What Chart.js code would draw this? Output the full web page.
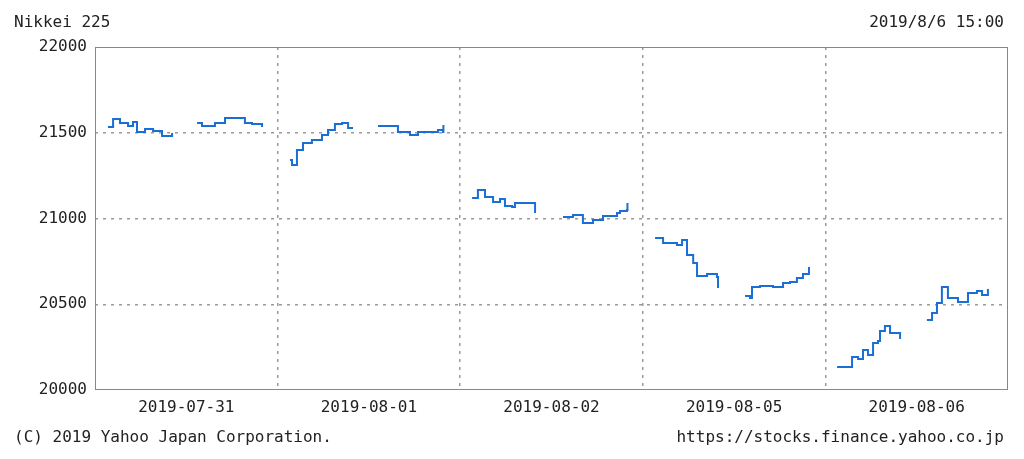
<!DOCTYPE html>
<html>
<head>
<meta charset="utf-8">
<script src="https://cdn.jsdelivr.net/npm/chart.js@4/dist/chart.umd.min.js"></script>
<style>
  body { margin: 0; background: #fff; }
  #wrap { position: relative; width: 1024px; height: 459px; font-family: "DejaVu Sans Mono", monospace; font-size: 16px; color: #222; }
  .t { position: absolute; white-space: nowrap; }
</style>
</head>
<body>
<div id="wrap">
  <canvas id="myChart" width="1024" height="459"></canvas>
  <div class="t" style="left:14px;top:12px;">Nikkei 225</div>
  <div class="t" style="right:20px;top:12px;">2019/8/6 15:00</div>
  <div class="t" style="left:14px;top:427px;">(C) 2019 Yahoo Japan Corporation.</div>
  <div class="t" style="right:20px;top:427px;">https://stocks.finance.yahoo.co.jp</div>
</div>
<script>
// x = position in hundredths of a trading day, null = lunch / overnight gap
const dayLabels = ['2019-07-31', '2019-08-01', '2019-08-02', '2019-08-05', '2019-08-06'];
const yTicks = [20000, 20500, 21000, 21500, 22000];

const times = [
    7.1, 9.9, 13.7, 18.1, 20.8, 23.0, 27.4, 31.8, 36.7, 42.2, null,
    55.9, 58.6, 65.7, 71.2, 78.3, 82.1, 86.0, 91.5, null,
    106.8, 107.9, 109.5, 110.6, 113.9, 118.8, 124.3, 127.6, 131.4, 135.3, 138.6, 141.3, null,
    155.0, 162.6, 165.9, 172.5, 176.9, 182.4, 187.8, 190.6, 190.8, null,
    206.5, 209.7, 213.6, 218.0, 221.8, 224.5, 228.4, 230.0, 234.4, 241.0, null,
    256.3, 261.8, 267.2, 272.7, 278.2, 285.9, 287.5, 291.3, 291.6, null,
    306.7, 311.1, 318.7, 321.5, 324.2, 327.6, 329.7, 335.2, 340.6, 341.2, null,
    356.0, 358.7, 359.8, 364.2, 371.3, 376.8, 380.6, 384.4, 387.7, 391.0, null,
    406.4, 410.8, 414.6, 417.9, 420.6, 423.3, 426.1, 428.8, 429.9, 432.6, 435.4, 438.1, 440.9, null,
    455.6, 458.4, 461.1, 463.8, 467.1, 472.6, 478.1, 483.0, 485.8, 489.0
];
const prices = [
    21534, 21580, 21557, 21539, 21563, 21504, 21522, 21510, 21481, 21499, null,
    21557, 21539, 21557, 21586, 21586, 21557, 21551, 21534, null,
    21341, 21312, 21312, 21400, 21440, 21458, 21487, 21516, 21551, 21557, 21528, 21528, null,
    21539, 21539, 21504, 21487, 21504, 21504, 21516, 21504, 21545, null,
    21120, 21166, 21125, 21096, 21114, 21073, 21067, 21090, 21090, 21032, null,
    21009, 21020, 20974, 20991, 21015, 21032, 21044, 21050, 21090, null,
    20886, 20857, 20846, 20875, 20787, 20741, 20665, 20676, 20659, 20595, null,
    20548, 20537, 20601, 20607, 20601, 20624, 20630, 20653, 20676, 20717, null,
    20134, 20134, 20192, 20181, 20233, 20204, 20274, 20286, 20344, 20373, 20332, 20332, 20297, null,
    20408, 20449, 20507, 20601, 20537, 20513, 20566, 20577, 20554, 20589
];

const points = times.map((t, i) => ({ x: t === null ? NaN : t, y: prices[i] }));

const frame = {
    id: 'frame',
    afterDraw(chart) {
        const a = chart.chartArea;
        const c = chart.ctx;
        c.save();
        c.strokeStyle = '#888';
        c.lineWidth = 1;
        c.strokeRect(a.left + 0.5, a.top + 0.5, a.right - a.left - 1, a.bottom - a.top - 1);
        c.restore();
    }
};

const ctx = document.getElementById('myChart').getContext('2d');
new Chart(ctx, {
    type: 'line',
    data: {
        datasets: [{
            data: points,
            borderColor: '#1a6fd6',
            borderWidth: 2,
            pointRadius: 0,
            stepped: true,
            spanGaps: false
        }]
    },
    options: {
        responsive: false,
        animation: false,
        layout: { padding: { left: 0, right: 16, top: 47, bottom: 34 } },
        plugins: { legend: { display: false }, tooltip: { enabled: false } },
        scales: {
            x: {
                type: 'linear',
                min: 0,
                max: 500,
                afterBuildTicks: s => { s.ticks = [0, 50, 100, 150, 200, 250, 300, 350, 400, 450, 500].map(v => ({ value: v })); },
                afterFit: s => { s.height = 35; },
                grid: {
                    color: ctx => (ctx.tick && ctx.tick.value % 100 === 0 && ctx.tick.value > 0 && ctx.tick.value < 500) ? '#999' : 'rgba(0,0,0,0)',
                    drawTicks: false,
                    lineWidth: 1.5
                },
                border: { display: false, dash: [3, 5] },
                ticks: {
                    autoSkip: false,
                    maxRotation: 0,
                    padding: 8,
                    color: '#222',
                    font: { family: 'DejaVu Sans Mono', size: 16 },
                    callback: v => (v % 100 === 50) ? dayLabels[(v - 50) / 100] : ''
                }
            },
            y: {
                min: 20000,
                max: 22000,
                afterBuildTicks: s => { s.ticks = yTicks.map(v => ({ value: v })); },
                afterFit: s => { s.width = 95; },
                grid: {
                    color: ctx => (ctx.tick && ctx.tick.value > 20000 && ctx.tick.value < 22000) ? '#999' : 'rgba(0,0,0,0)',
                    drawTicks: false,
                    lineWidth: 1.5
                },
                border: { display: false, dash: [3, 5] },
                ticks: {
                    padding: 8,
                    color: '#222',
                    font: { family: 'DejaVu Sans Mono', size: 16 },
                    callback: v => String(v)
                }
            }
        }
    },
    plugins: [frame]
});
</script>
</body>
</html>
